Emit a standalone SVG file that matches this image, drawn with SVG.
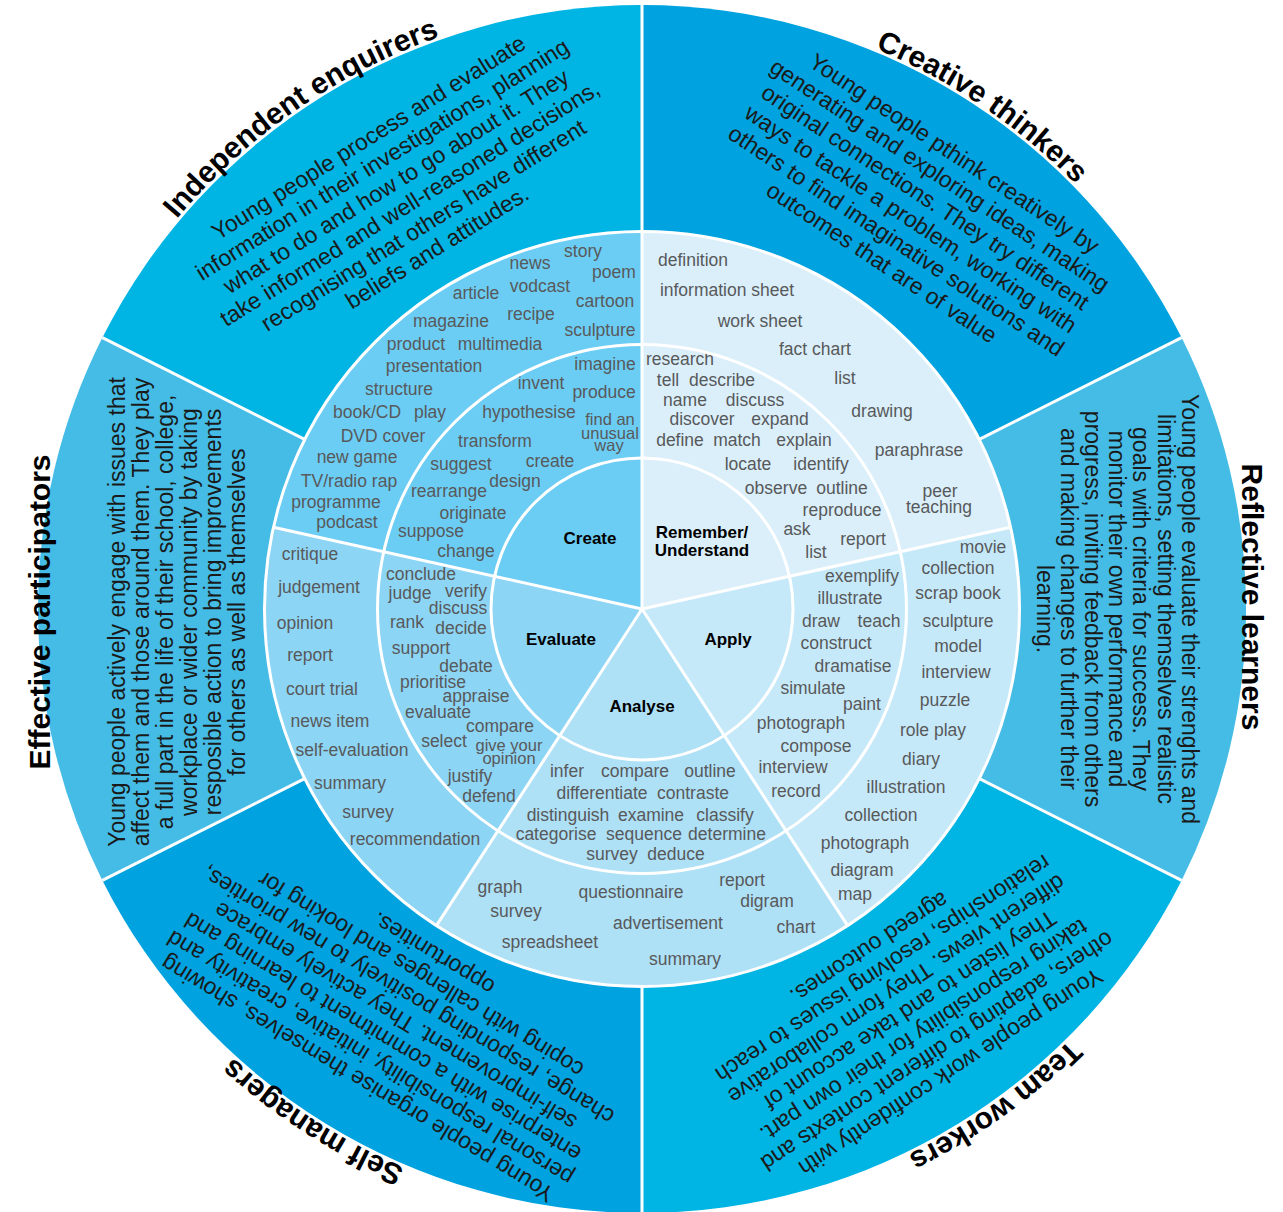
<svg xmlns="http://www.w3.org/2000/svg" width="1283" height="1212" viewBox="0 0 1283 1212">
<style>
.w{font-family:"Liberation Sans",Arial,sans-serif;font-size:17.5px;fill:#58595b;text-anchor:middle}
.s{font-size:16.5px}
.b{font-family:"Liberation Sans",Arial,sans-serif;font-size:23px;fill:#1a1a1a;text-anchor:middle}
.t{font-family:"Liberation Sans",Arial,sans-serif;font-size:30px;font-weight:bold;fill:#000;text-anchor:middle}
.c{font-family:"Liberation Sans",Arial,sans-serif;font-size:17px;font-weight:bold;fill:#000;text-anchor:middle}
.sep{stroke:#fff;stroke-width:3;fill:none}
</style>
<defs>
<path id="arcIE" d="M72.5,398.9 A607,607 0 0 1 644.6,2.0"/>
<path id="arcCT" d="M632.5,2.1 A607,607 0 0 1 1209.1,392.5"/>
<path id="arcTW" d="M1213.9,812.6 A607,607 0 0 1 646.2,1216.0"/>
<path id="arcSM" d="M666.3,1215.5 A607,607 0 0 1 80.4,839.4"/>
</defs>
<rect width="1283" height="1212" fill="#fff"/>

<g id="independent-enquirers">
<path d="M642,609 L642,5 A604,604 0 0 0 102.4,337.6 Z" fill="#00b4e3"/>
<text class="t"><textPath href="#arcIE" startOffset="50%">Independent enquirers</textPath></text>
<g transform="translate(642,609) rotate(-32)">
<text class="b" x="18" y="-537">Young people process and evaluate</text>
<text class="b" x="18" y="-511.1">information in their investigations, planning</text>
<text class="b" x="18" y="-485.2">what to do and how to go about it. They</text>
<text class="b" x="18" y="-459.3">take informed and well-reasoned decisions,</text>
<text class="b" x="18" y="-433.4">recognising that others have different</text>
<text class="b" x="18" y="-407.5">beliefs and attitudes.</text>
</g>
</g>

<g id="effective-participators">
<path d="M642,609 L102.4,337.6 A604,604 0 0 0 102.4,880.4 Z" fill="#44bce6"/>
<text class="t" transform="translate(50,612) rotate(-90)">Effective participators</text>
<text class="b" transform="translate(125,612) rotate(-90)">Young people actively engage with issues that</text>
<text class="b" transform="translate(149,612) rotate(-90)">affect them and those around them. They play</text>
<text class="b" transform="translate(173,612) rotate(-90)">a full part in the life of their school, college,</text>
<text class="b" transform="translate(197,612) rotate(-90)">workplace or wider community by taking</text>
<text class="b" transform="translate(221,612) rotate(-90)">resposible action to bring improvements</text>
<text class="b" transform="translate(245,612) rotate(-90)">for others as well as themselves</text>
</g>

<g id="self-managers">
<path d="M642,609 L102.4,880.4 A604,604 0 0 0 642,1213 Z" fill="#00a2df"/>
<text class="t"><textPath href="#arcSM" startOffset="50%">Self managers</textPath></text>
<g transform="translate(642,609) rotate(211.2)">
<text class="b" x="0" y="-541.5">Young people organise themselves, showing</text>
<text class="b" x="0" y="-517.1">personal responsibility, initiative, creativity and</text>
<text class="b" x="0" y="-492.7">enterprise with a commitment to learning and</text>
<text class="b" x="0" y="-468.3">self-improvement. They actively embrace</text>
<text class="b" x="0" y="-443.9">change, responding positively to new priorities,</text>
<text class="b" x="0" y="-419.5">coping with callenges and looking for</text>
<text class="b" x="0" y="-395.1">opportunities.</text>
</g>
</g>

<g id="team-workers">
<path d="M642,609 L642,1213 A604,604 0 0 0 1181.6,880.4 Z" fill="#00b4e3"/>
<text class="t"><textPath href="#arcTW" startOffset="50%">Team workers</textPath></text>
<g transform="translate(642,609) rotate(146.7)">
<text class="b" x="-4" y="-548.6">Young people work confidently with</text>
<text class="b" x="-4" y="-523.9">others, adapting to different contexts and</text>
<text class="b" x="-4" y="-499.2">taking responsibility for their own part.</text>
<text class="b" x="-4" y="-474.5">They listen to and take account of</text>
<text class="b" x="-4" y="-449.8">different views. They form collaborative</text>
<text class="b" x="-4" y="-425.1">relationships, resolving issues to reach</text>
<text class="b" x="-4" y="-400.4">agreed outcomes.</text>
</g>
</g>

<g id="reflective-learners">
<path d="M642,609 L1181.6,880.4 A604,604 0 0 0 1181.6,337.6 Z" fill="#44bce6"/>
<text class="t" transform="translate(1242,597) rotate(90)">Reflective learners</text>
<text class="b" transform="translate(1181.7,609) rotate(90)">Young people evaluate their strenghts and</text>
<text class="b" transform="translate(1157.5,609) rotate(90)">limitations, setting themselves realistic</text>
<text class="b" transform="translate(1133.3,609) rotate(90)">goals with criteria for success. They</text>
<text class="b" transform="translate(1109.1,609) rotate(90)">monitor their own performance and</text>
<text class="b" transform="translate(1084.9,609) rotate(90)">progress, inviting feedback from others</text>
<text class="b" transform="translate(1060.7,609) rotate(90)">and making changes to further their</text>
<text class="b" transform="translate(1036.5,609) rotate(90)">learning.</text>
</g>

<g id="creative-thinkers">
<path d="M642,609 L1181.6,337.6 A604,604 0 0 0 642,5 Z" fill="#00a2df"/>
<text class="t"><textPath href="#arcCT" startOffset="50%">Creative thinkers</textPath></text>
<g transform="translate(642,609) rotate(33.6)">
<text class="b" x="8" y="-544.4">Young people pthink creatively by</text>
<text class="b" x="8" y="-518.2">generating and exploring ideas, making</text>
<text class="b" x="8" y="-492">original connections. They try different</text>
<text class="b" x="8" y="-465.8">ways to tackle a problem, working with</text>
<text class="b" x="8" y="-439.6">others to find imaginative solutions and</text>
<text class="b" x="8" y="-413.4">outcomes that are of value</text>
</g>
</g>

<g id="create">
<path d="M642,609 L642,231.5 A377.5,377.5 0 0 0 273.4,527.3 Z" fill="#6ccdf4"/>
<text class="c" x="590" y="544">Create</text>
<text class="w" x="583" y="257">story</text>
<text class="w" x="530" y="269">news</text>
<text class="w" x="614" y="278">poem</text>
<text class="w" x="476" y="299">article</text>
<text class="w" x="540" y="292">vodcast</text>
<text class="w" x="605" y="307">cartoon</text>
<text class="w" x="451" y="327">magazine</text>
<text class="w" x="531" y="320">recipe</text>
<text class="w" x="600" y="336">sculpture</text>
<text class="w" x="416" y="350">product</text>
<text class="w" x="500" y="350">multimedia</text>
<text class="w" x="434" y="372">presentation</text>
<text class="w" x="399" y="395">structure</text>
<text class="w" x="367" y="418">book/CD</text>
<text class="w" x="430" y="418">play</text>
<text class="w" x="383" y="442">DVD cover</text>
<text class="w" x="357" y="463">new game</text>
<text class="w" x="349" y="487">TV/radio rap</text>
<text class="w" x="336" y="508">programme</text>
<text class="w" x="347" y="528">podcast</text>
<text class="w" x="605" y="370">imagine</text>
<text class="w" x="541" y="389">invent</text>
<text class="w" x="604" y="398">produce</text>
<text class="w" x="529" y="418">hypothesise</text>
<text class="w s" x="610" y="425">find an<tspan x="610" y="438.5">unusual</tspan><tspan x="609" y="451">way</tspan></text>
<text class="w" x="495" y="447">transform</text>
<text class="w" x="461" y="470">suggest</text>
<text class="w" x="550" y="467">create</text>
<text class="w" x="515" y="487">design</text>
<text class="w" x="449" y="497">rearrange</text>
<text class="w" x="473" y="519">originate</text>
<text class="w" x="431" y="537">suppose</text>
<text class="w" x="466" y="557">change</text>
</g>

<g id="remember-understand">
<path d="M642,609 L1010.6,527.3 A377.5,377.5 0 0 0 642,231.5 Z" fill="#daeffa"/>
<text class="c" x="702" y="538">Remember/<tspan x="702" y="556">Understand</tspan></text>
<text class="w" x="693" y="266">definition</text>
<text class="w" x="727" y="296">information sheet</text>
<text class="w" x="760" y="327">work sheet</text>
<text class="w" x="815" y="355">fact chart</text>
<text class="w" x="845" y="384">list</text>
<text class="w" x="882" y="417">drawing</text>
<text class="w" x="919" y="456">paraphrase</text>
<text class="w" x="940" y="497">peer<tspan x="939" y="513">teaching</tspan></text>
<text class="w" x="680" y="365">research</text>
<text class="w" x="668" y="386">tell</text>
<text class="w" x="722" y="386">describe</text>
<text class="w" x="685" y="406">name</text>
<text class="w" x="755" y="406">discuss</text>
<text class="w" x="702" y="425">discover</text>
<text class="w" x="780" y="425">expand</text>
<text class="w" x="680" y="446">define</text>
<text class="w" x="737" y="446">match</text>
<text class="w" x="804" y="446">explain</text>
<text class="w" x="748" y="470">locate</text>
<text class="w" x="821" y="470">identify</text>
<text class="w" x="776" y="494">observe</text>
<text class="w" x="842" y="494">outline</text>
<text class="w" x="842" y="516">reproduce</text>
<text class="w" x="797" y="535">ask</text>
<text class="w" x="863" y="545">report</text>
<text class="w" x="816" y="558">list</text>
</g>

<g id="apply">
<path d="M642,609 L847.6,925.6 A377.5,377.5 0 0 0 1010.6,527.3 Z" fill="#c6e9f9"/>
<text class="c" x="728" y="645">Apply</text>
<text class="w" x="862" y="582">exemplify</text>
<text class="w" x="850" y="604">illustrate</text>
<text class="w" x="821" y="627">draw</text>
<text class="w" x="879" y="627">teach</text>
<text class="w" x="836" y="649">construct</text>
<text class="w" x="853" y="672">dramatise</text>
<text class="w" x="813" y="694">simulate</text>
<text class="w" x="862" y="710">paint</text>
<text class="w" x="801" y="729">photograph</text>
<text class="w" x="816" y="752">compose</text>
<text class="w" x="793" y="773">interview</text>
<text class="w" x="796" y="797">record</text>
<text class="w" x="983" y="553">movie</text>
<text class="w" x="958" y="574">collection</text>
<text class="w" x="958" y="599">scrap book</text>
<text class="w" x="958" y="627">sculpture</text>
<text class="w" x="958" y="652">model</text>
<text class="w" x="956" y="678">interview</text>
<text class="w" x="945" y="706">puzzle</text>
<text class="w" x="933" y="736">role play</text>
<text class="w" x="921" y="765">diary</text>
<text class="w" x="906" y="793">illustration</text>
<text class="w" x="881" y="821">collection</text>
<text class="w" x="865" y="849">photograph</text>
<text class="w" x="862" y="876">diagram</text>
<text class="w" x="855" y="900">map</text>
</g>

<g id="analyse">
<path d="M642,609 L436.4,925.6 A377.5,377.5 0 0 0 847.6,925.6 Z" fill="#aee0f6"/>
<text class="c" x="642" y="712">Analyse</text>
<text class="w" x="567" y="777">infer</text>
<text class="w" x="635" y="777">compare</text>
<text class="w" x="710" y="777">outline</text>
<text class="w" x="602" y="799">differentiate</text>
<text class="w" x="693" y="799">contraste</text>
<text class="w" x="568" y="821">distinguish</text>
<text class="w" x="651" y="821">examine</text>
<text class="w" x="725" y="821">classify</text>
<text class="w" x="556" y="840">categorise</text>
<text class="w" x="644" y="840">sequence</text>
<text class="w" x="727" y="840">determine</text>
<text class="w" x="612" y="860">survey</text>
<text class="w" x="676" y="860">deduce</text>
<text class="w" x="500" y="893">graph</text>
<text class="w" x="631" y="898">questionnaire</text>
<text class="w" x="742" y="886">report</text>
<text class="w" x="516" y="917">survey</text>
<text class="w" x="767" y="907">digram</text>
<text class="w" x="668" y="929">advertisement</text>
<text class="w" x="796" y="933">chart</text>
<text class="w" x="550" y="948">spreadsheet</text>
<text class="w" x="685" y="965">summary</text>
</g>

<g id="evaluate">
<path d="M642,609 L273.4,527.3 A377.5,377.5 0 0 0 436.4,925.6 Z" fill="#8dd5f4"/>
<text class="c" x="561" y="645">Evaluate</text>
<text class="w" x="421" y="580">conclude</text>
<text class="w" x="410" y="599">judge</text>
<text class="w" x="466" y="597">verify</text>
<text class="w" x="458" y="614">discuss</text>
<text class="w" x="407" y="628">rank</text>
<text class="w" x="461" y="634">decide</text>
<text class="w" x="421" y="654">support</text>
<text class="w" x="466" y="672">debate</text>
<text class="w" x="433" y="688">prioritise</text>
<text class="w" x="476" y="702">appraise</text>
<text class="w" x="438" y="718">evaluate</text>
<text class="w" x="500" y="732">compare</text>
<text class="w" x="444" y="747">select</text>
<text class="w s" x="509" y="751">give your<tspan x="509" y="764">opinion</tspan></text>
<text class="w" x="470" y="782">justify</text>
<text class="w" x="489" y="802">defend</text>
<text class="w" x="310" y="560">critique</text>
<text class="w" x="319" y="593">judgement</text>
<text class="w" x="305" y="629">opinion</text>
<text class="w" x="310" y="661">report</text>
<text class="w" x="322" y="695">court trial</text>
<text class="w" x="330" y="727">news item</text>
<text class="w" x="352" y="756">self-evaluation</text>
<text class="w" x="350" y="789">summary</text>
<text class="w" x="368" y="818">survey</text>
<text class="w" x="415" y="845">recommendation</text>
</g>

<g id="dividers">
<circle class="sep" cx="642" cy="609" r="377.5"/>
<circle class="sep" cx="642" cy="609" r="264.5"/>
<circle class="sep" cx="642" cy="609" r="151"/>
<line class="sep" x1="642" y1="609" x2="642" y2="5"/>
<line class="sep" x1="642" y1="986.5" x2="642" y2="1213"/>
<line class="sep" x1="642" y1="609" x2="273.4" y2="527.3"/>
<line class="sep" x1="642" y1="609" x2="1010.6" y2="527.3"/>
<line class="sep" x1="642" y1="609" x2="436.4" y2="925.6"/>
<line class="sep" x1="642" y1="609" x2="847.6" y2="925.6"/>
<line class="sep" x1="304.7" y1="439.4" x2="102.4" y2="337.6"/>
<line class="sep" x1="979.3" y1="439.4" x2="1181.6" y2="337.6"/>
<line class="sep" x1="304.7" y1="778.6" x2="102.4" y2="880.4"/>
<line class="sep" x1="979.3" y1="778.6" x2="1181.6" y2="880.4"/>
</g>
</svg>
